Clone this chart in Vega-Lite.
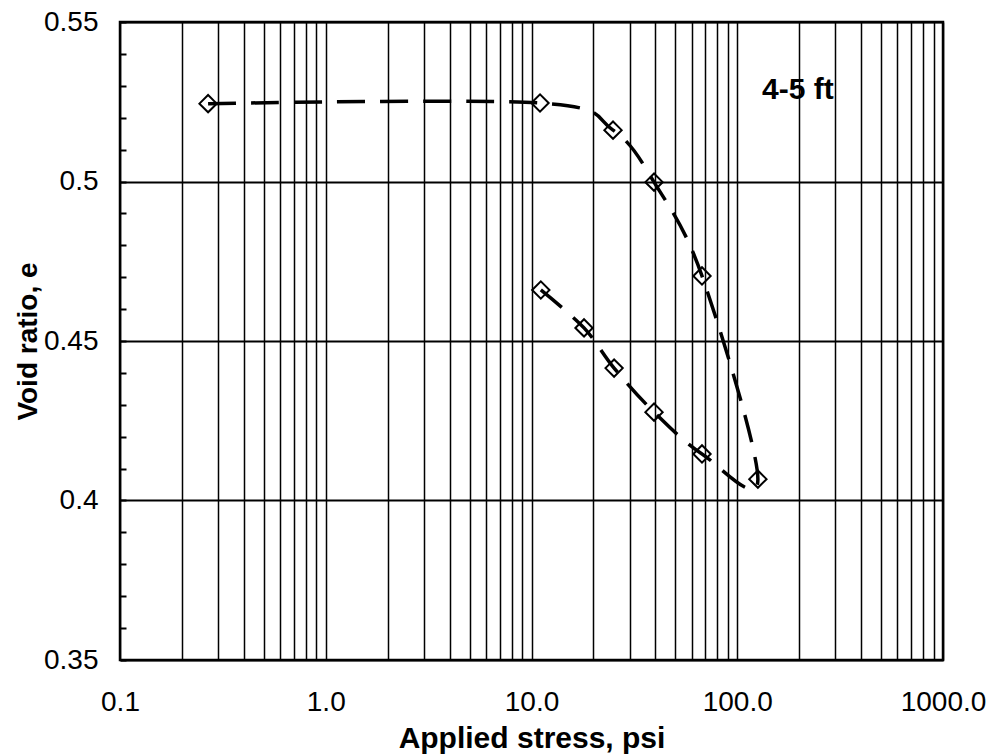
{
  "$schema": "https://vega.github.io/schema/vega-lite/v6.json",
  "autosize": "none",
  "width": 823,
  "height": 638,
  "padding": {"left": 120, "top": 22, "right": 49, "bottom": 94},
  "background": "white",
  "config": {
    "view": {"stroke": "black", "strokeWidth": 2.5},
    "font": "Liberation Sans"
  },
  "datasets": {
    "curve": [
      {"order": 1, "stress": 0.268, "e": 0.5244},
      {"order": 2, "stress": 11.0, "e": 0.5246},
      {"order": 3, "stress": 24.9, "e": 0.5161},
      {"order": 4, "stress": 39.4, "e": 0.4998},
      {"order": 5, "stress": 67.4, "e": 0.4704},
      {"order": 6, "stress": 126, "e": 0.4067},
      {"order": 7, "stress": 67.4, "e": 0.4146},
      {"order": 8, "stress": 39.4, "e": 0.4277},
      {"order": 9, "stress": 25.2, "e": 0.4415},
      {"order": 10, "stress": 18.0, "e": 0.4541},
      {"order": 11, "stress": 11.1, "e": 0.466}
    ],
    "note": [{"stress": 132, "e": 0.5259, "label": "4-5 ft"}]
  },
  "layer": [
    {
      "data": {"name": "curve"},
      "mark": {"type": "line", "interpolate": "cardinal", "color": "black", "strokeWidth": 3.5, "strokeDash": [28, 15]},
      "encoding": {
        "x": {
          "field": "stress", "type": "quantitative",
          "scale": {"type": "log", "domain": [0.1, 1000], "nice": false},
          "axis": {
            "title": "Applied stress, psi",
            "titleFontSize": 30, "titleFontWeight": "bold", "titleColor": "black",
            "titleY": 87, "titleBaseline": "alphabetic",
            "tickCount": 200,
            "values": [0.1,0.2,0.3,0.4,0.5,0.6,0.7,0.8,0.9,1,2,3,4,5,6,7,8,9,10,20,30,40,50,60,70,80,90,100,200,300,400,500,600,700,800,900,1000],
            "labelExpr": "(datum.value==0.1||datum.value==1||datum.value==10||datum.value==100||datum.value==1000) ? format(datum.value, '.1f') : ''",
            "labelOverlap": false, "labelBound": false, "labelFlush": false,
            "labelFontSize": 28, "labelColor": "black",
            "labelBaseline": "alphabetic", "labelPadding": 50,
            "ticks": false, "tickSize": 0, "domain": false,
            "grid": true, "gridColor": "black", "gridWidth": 1.5, "gridOpacity": 1
          }
        },
        "y": {
          "field": "e", "type": "quantitative",
          "scale": {"domain": [0.35, 0.55], "nice": false, "zero": false},
          "axis": {
            "title": "Void ratio, e",
            "titleFontSize": 28, "titleFontWeight": "bold", "titleColor": "black",
            "titleX": -84, "titleY": 319, "titleAngle": -90, "titleBaseline": "alphabetic", "titleAlign": "center",
            "tickCount": 200,
            "values": [0.35,0.36,0.37,0.38,0.39,0.4,0.41,0.42,0.43,0.44,0.45,0.46,0.47,0.48,0.49,0.5,0.51,0.52,0.53,0.54,0.55],
            "labelExpr": "abs(datum.value*20 - round(datum.value*20)) < 0.01 ? format(datum.value, '~g') : ''",
            "labelOverlap": false, "labelBound": false, "labelFlush": false,
            "labelFontSize": 28, "labelColor": "black", "labelBaseline": "middle",
            "labelPadding": 28,
            "ticks": true, "tickSize": -6, "tickColor": "black", "tickWidth": 2,
            "domain": false,
            "grid": true, "gridColor": "black", "gridWidth": 2,
            "gridOpacity": {"condition": {"test": "abs(datum.value*20 - round(datum.value*20)) < 0.01", "value": 1}, "value": 0}
          }
        },
        "order": {"field": "order", "type": "quantitative"}
      }
    },
    {
      "data": {"name": "curve"},
      "mark": {"type": "point", "shape": "diamond", "filled": false, "size": 300, "stroke": "black", "strokeWidth": 2, "opacity": 1},
      "encoding": {
        "x": {"field": "stress", "type": "quantitative"},
        "y": {"field": "e", "type": "quantitative"}
      }
    },
    {
      "data": {"name": "note"},
      "mark": {"type": "text", "align": "left", "baseline": "alphabetic", "fontSize": 30, "fontWeight": "bold", "color": "black"},
      "encoding": {
        "x": {"field": "stress", "type": "quantitative"},
        "y": {"field": "e", "type": "quantitative"},
        "text": {"field": "label"}
      }
    }
  ]
}
